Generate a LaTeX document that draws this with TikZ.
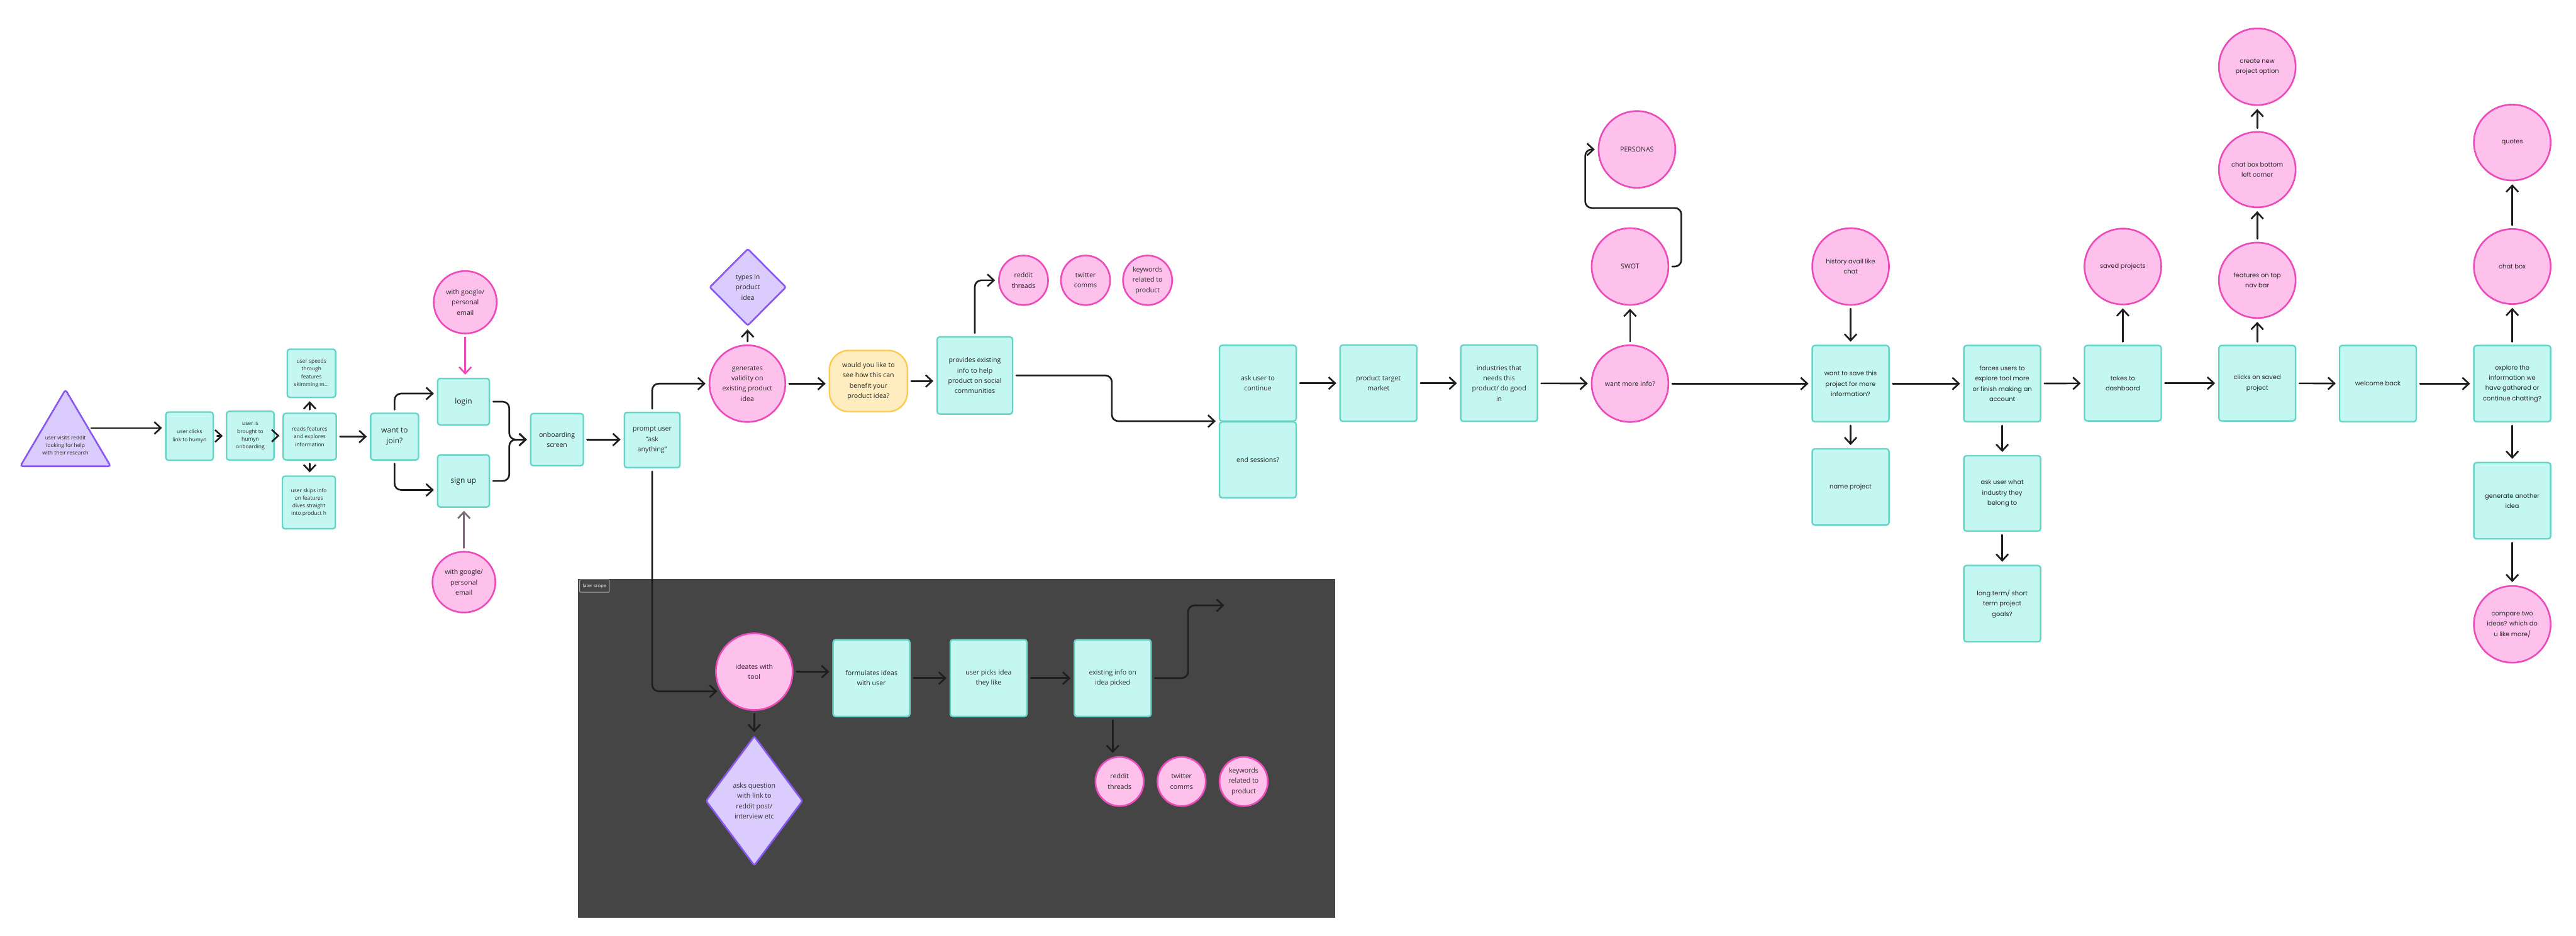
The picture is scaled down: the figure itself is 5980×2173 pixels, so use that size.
\documentclass[tikz,border=0pt]{standalone}
\usepackage{fontspec}
\setmainfont{Open Sans}
\newfontfamily\popfont{Poppins}
\usetikzlibrary{shapes.geometric,arrows.meta,positioning}
\definecolor{boxfill}{RGB}{196,247,241}
\definecolor{boxline}{RGB}{102,212,199}
\definecolor{pinkfill}{RGB}{254,193,235}
\definecolor{pinkline}{RGB}{236,75,186}
\definecolor{lilacfill}{RGB}{218,205,253}
\definecolor{lilacline}{RGB}{137,86,240}
\definecolor{sunfill}{RGB}{255,236,191}
\definecolor{sunline}{RGB}{255,202,80}
\definecolor{laterbg}{RGB}{69,69,69}
\definecolor{inkline}{RGB}{30,30,30}
\definecolor{inktext}{RGB}{40,40,40}
\definecolor{mauveline}{RGB}{122,106,120}
\newcommand{\flowtiny}{\fontsize{3.5}{5.1}\selectfont}
\newcommand{\flowmid}{\fontsize{4.4}{6.8}\selectfont}
\newcommand{\flowbig}{\fontsize{5}{7}\selectfont}
\newcommand{\flowwide}{\popfont\fontsize{4.1}{6.8}\selectfont}

\begin{document}
\begin{tikzpicture}[x=0.01cm, y=-0.01cm,
  stepbox/.style={draw=boxline, fill=boxfill, line width=1pt, rounded corners=0.6mm, align=center, font=\flowmid, text=inktext, inner sep=1pt, minimum width=1.78cm, minimum height=1.77cm},
  tinybox/.style={stepbox, font=\flowtiny, minimum width=1.1cm, minimum height=1.12cm},
  widebox/.style={stepbox, font=\flowwide},
  bubble/.style={ellipse, draw=pinkline, fill=pinkfill, line width=1.1pt, align=center, font=\flowmid, text=inktext, inner sep=0pt, minimum width=1.78cm, minimum height=1.78cm},
  smallbubble/.style={bubble, minimum width=1.14cm, minimum height=1.15cm},
  widebubble/.style={bubble, font=\flowwide},
  gem/.style={diamond, draw=lilacline, fill=lilacfill, line width=1.1pt, rounded corners=0.4mm, align=center, font=\flowmid, text=inktext, inner sep=0pt},
  tri/.style={draw=lilacline, fill=lilacfill, line width=1.1pt, rounded corners=0.6mm},
  flow/.style={-{Straight Barb[length=1.5mm,width=2.8mm]}, draw=inkline, line width=1.1pt, rounded corners=0.15cm, shorten >=0.07cm, shorten <=0.07cm, line cap=round}
]
\useasboundingbox (0,0) rectangle (5980,2173);

% later scope area
\fill[laterbg] (1342,1344) rectangle (3100,2132);
\node[draw=gray!65, fill=laterbg, text=white, font=\fontsize{3}{4}\selectfont, rounded corners=0.3mm, minimum width=0.69cm, minimum height=0.29cm, inner sep=0.5pt] (laterlabel) at (1380,1361) {later scope};

% entry
\draw[tri] (152,905) -- coordinate[pos=0.5] (visitr) (257,1083) -- (47,1083) -- cycle;
\node[font=\flowtiny, text=inktext, align=center] (visit) at (152,1034) {user visits reddit\\looking for help\\with their research};

% onboarding
\node[tinybox] (clicks) at (440,1013) {user clicks\\link to humyn};
\node[tinybox, minimum height=1.13cm] (brought) at (581,1012) {user is\\brought to\\humyn\\onboarding};
\node[tinybox, minimum width=1.23cm, minimum height=1.08cm] (reads) at (719,1014) {reads features\\and explores\\information};
\node[tinybox, minimum width=1.12cm] (speeds) at (723,867) {user speeds\\through\\features\\skimming m...};
\node[tinybox, minimum width=1.23cm, minimum height=1.22cm] (skips) at (717,1167) {user skips info\\on features\\dives straight\\into product h};

\node[stepbox, font=\flowbig, minimum width=1.11cm, minimum height=1.08cm] (join) at (916,1014) {want to\\join?};
\node[stepbox, font=\flowbig, minimum width=1.2cm, minimum height=1.08cm] (login) at (1076,933) {login};
\node[stepbox, font=\flowbig, minimum width=1.2cm, minimum height=1.21cm] (signup) at (1076,1117) {sign up};
\node[bubble, minimum width=1.46cm, minimum height=1.45cm] (mailtop) at (1080,702) {with google/\\personal\\email};
\node[bubble, minimum width=1.46cm, minimum height=1.41cm] (mailbot) at (1077,1352) {with google/\\personal\\email};
\node[stepbox, minimum width=1.22cm, minimum height=1.21cm] (onboard) at (1293,1021) {onboarding\\screen};
\node[stepbox, minimum width=1.29cm, minimum height=1.28cm] (prompt) at (1514,1022) {prompt user\\“ask\\anything”};

% idea validation
\node[gem, minimum width=1.78cm, minimum height=1.79cm] (types) at (1736,667) {types in\\product\\idea};
\node[bubble, minimum width=1.76cm] (validity) at (1735,891) {generates\\validity on\\existing product\\idea};
\node[stepbox, draw=sunline, fill=sunfill, rounded corners=0.45cm, minimum width=1.81cm, minimum height=1.42cm] (benefit) at (2016,885) {would you like to\\see how this can\\benefit your\\product idea?};
\node[stepbox, minimum width=1.75cm, minimum height=1.79cm] (provides) at (2263,872) {provides existing\\info to help\\product on social\\communities};
\node[smallbubble] (reddita) at (2376,651) {reddit\\threads};
\node[smallbubble] (twittera) at (2520,651) {twitter\\comms};
\node[smallbubble] (keywordsa) at (2664,651) {keywords\\related to\\product};

% research
\node[stepbox, minimum height=1.76cm] (askcont) at (2920,890) {ask user to\\continue};
\node[stepbox, minimum height=1.76cm] (endsess) at (2920,1068) {end sessions?};
\node[stepbox] (target) at (3200,890) {product target\\market};
\node[stepbox] (industries) at (3480,890) {industries that\\needs this\\product/ do good\\in};
\node[bubble] (moreinfo) at (3784,891) {want more info?};
\node[bubble] (swot) at (3784,619) {SWOT};
\node[bubble] (personas) at (3800,347) {PERSONAS};

% saving and dashboard
\node[widebubble] (history) at (4296,619) {history avail like\\chat};
\node[widebox] (save) at (4296,891) {want to save this\\project for more\\information?};
\node[widebox] (nameproj) at (4296,1131) {name project};
\node[widebox] (forces) at (4648,891) {forces users to\\explore tool more\\or finish making an\\account};
\node[widebox, minimum height=1.75cm] (industry) at (4648,1146) {ask user what\\industry they\\belong to};
\node[widebox] (goals) at (4648,1402) {long term/ short\\term project\\goals?};
\node[widebox, minimum height=1.75cm] (dashboard) at (4928,890) {takes to\\dashboard};
\node[widebubble, minimum height=1.76cm] (saved) at (4928,619) {saved projects};
\node[widebox, minimum height=1.75cm] (clicksaved) at (5240,890) {clicks on saved\\project};
\node[widebubble, minimum height=1.75cm] (navbar) at (5240,651) {features on top\\nav bar};
\node[widebubble, minimum height=1.75cm] (chatcorner) at (5240,394) {chat box bottom\\left corner};
\node[widebubble] (newproj) at (5240,155) {create new\\project option};
\node[widebox] (welcome) at (5520,891) {welcome back};
\node[widebox] (explore) at (5832,891) {explore the\\information we\\have gathered or\\continue chatting?};
\node[widebubble, minimum height=1.74cm] (chatbox) at (5832,619) {chat box};
\node[widebubble, minimum height=1.76cm] (quotes) at (5832,331) {quotes};
\node[widebox] (another) at (5832,1163) {generate another\\idea};
\node[widebubble] (compare) at (5832,1450) {compare two\\ideas? which do\\u like more/};

% later scope nodes
\node[bubble] (ideates) at (1751,1560) {ideates with\\tool};
\node[gem, minimum width=2.25cm, minimum height=3.01cm] (asks) at (1751,1860) {asks question\\with link to\\reddit post/\\interview etc};
\node[stepbox, minimum height=1.78cm] (formulates) at (2023,1575) {formulates ideas\\with user};
\node[stepbox, minimum height=1.78cm] (picks) at (2295,1575) {user picks idea\\they like};
\node[stepbox, minimum height=1.78cm] (existing) at (2583,1575) {existing info on\\idea picked};
\node[smallbubble, minimum width=1.12cm, minimum height=1.14cm] (redditb) at (2599,1815) {reddit\\threads};
\node[smallbubble, minimum width=1.12cm, minimum height=1.14cm] (twitterb) at (2743,1815) {twitter\\comms};
\node[smallbubble, minimum width=1.12cm, minimum height=1.14cm] (keywordsb) at (2887,1815) {keywords\\related to\\product};
\coordinate (laterend) at (2849,1406);

% entry and onboarding connections
\draw[flow] (visitr) -- (visitr -| clicks.west);
\draw[flow] (brought) -- (brought -| reads.west);
\draw[flow] (reads.north) -- (reads.north |- speeds.south);
\draw[flow] (reads.south) -- (reads.south |- skips.north);
\draw[flow] (join.north) |- ([yshift=0.19cm]login.west);
\draw[flow] (join.south) |- ([yshift=-0.21cm]signup.west);
\draw[flow] (login.east) -| ([xshift=-0.48cm]onboard.west) -- (onboard.west);
\draw[flow] (signup.east) -| ([xshift=-0.48cm]onboard.west) -- (onboard.west);
\draw[flow, draw=pinkline] (mailtop.south) -- (mailtop.south |- login.north);
\draw[flow, draw=mauveline] (mailbot.north) -- (mailbot.north |- signup.south);
\draw[flow] (onboard) -- (onboard -| prompt.west);

% validation connections
\draw[flow] (prompt.north) |- (validity.west);
\draw[flow] (validity) -- (validity -| benefit.west);
\draw[flow] (benefit) -- (benefit -| provides.west);
\draw[flow] (provides.north) |- (reddita.west);
\draw[flow] (provides.east) -| ([xshift=-2.48cm]endsess.north west) -- (endsess.north west);
\draw[flow] (swot.east) -| (3903,483) -| (3680,347) -- (personas.west);

% straight connections
\foreach \a/\b in {clicks/brought, reads/join, validity/types, askcont/target, target/industries,
  industries/moreinfo, moreinfo/swot, moreinfo/save, history/save, save/nameproj, save/forces,
  forces/industry, industry/goals, forces/dashboard, dashboard/saved, dashboard/clicksaved,
  clicksaved/navbar, navbar/chatcorner, chatcorner/newproj, clicksaved/welcome, welcome/explore,
  explore/chatbox, chatbox/quotes, explore/another, another/compare,
  ideates/asks, formulates/picks, picks/existing}
  \draw[flow] (\a) -- (\b);

% later scope connections
\draw[flow] (prompt.south) |- (ideates.210);
\draw[flow] (ideates) -- (ideates -| formulates.west);
\draw[flow] (existing.south) -- (existing.south |- redditb.north);
\draw[flow] (existing.east) -| ([xshift=-0.91cm]laterend) -- (laterend);

\end{tikzpicture}
\end{document}
